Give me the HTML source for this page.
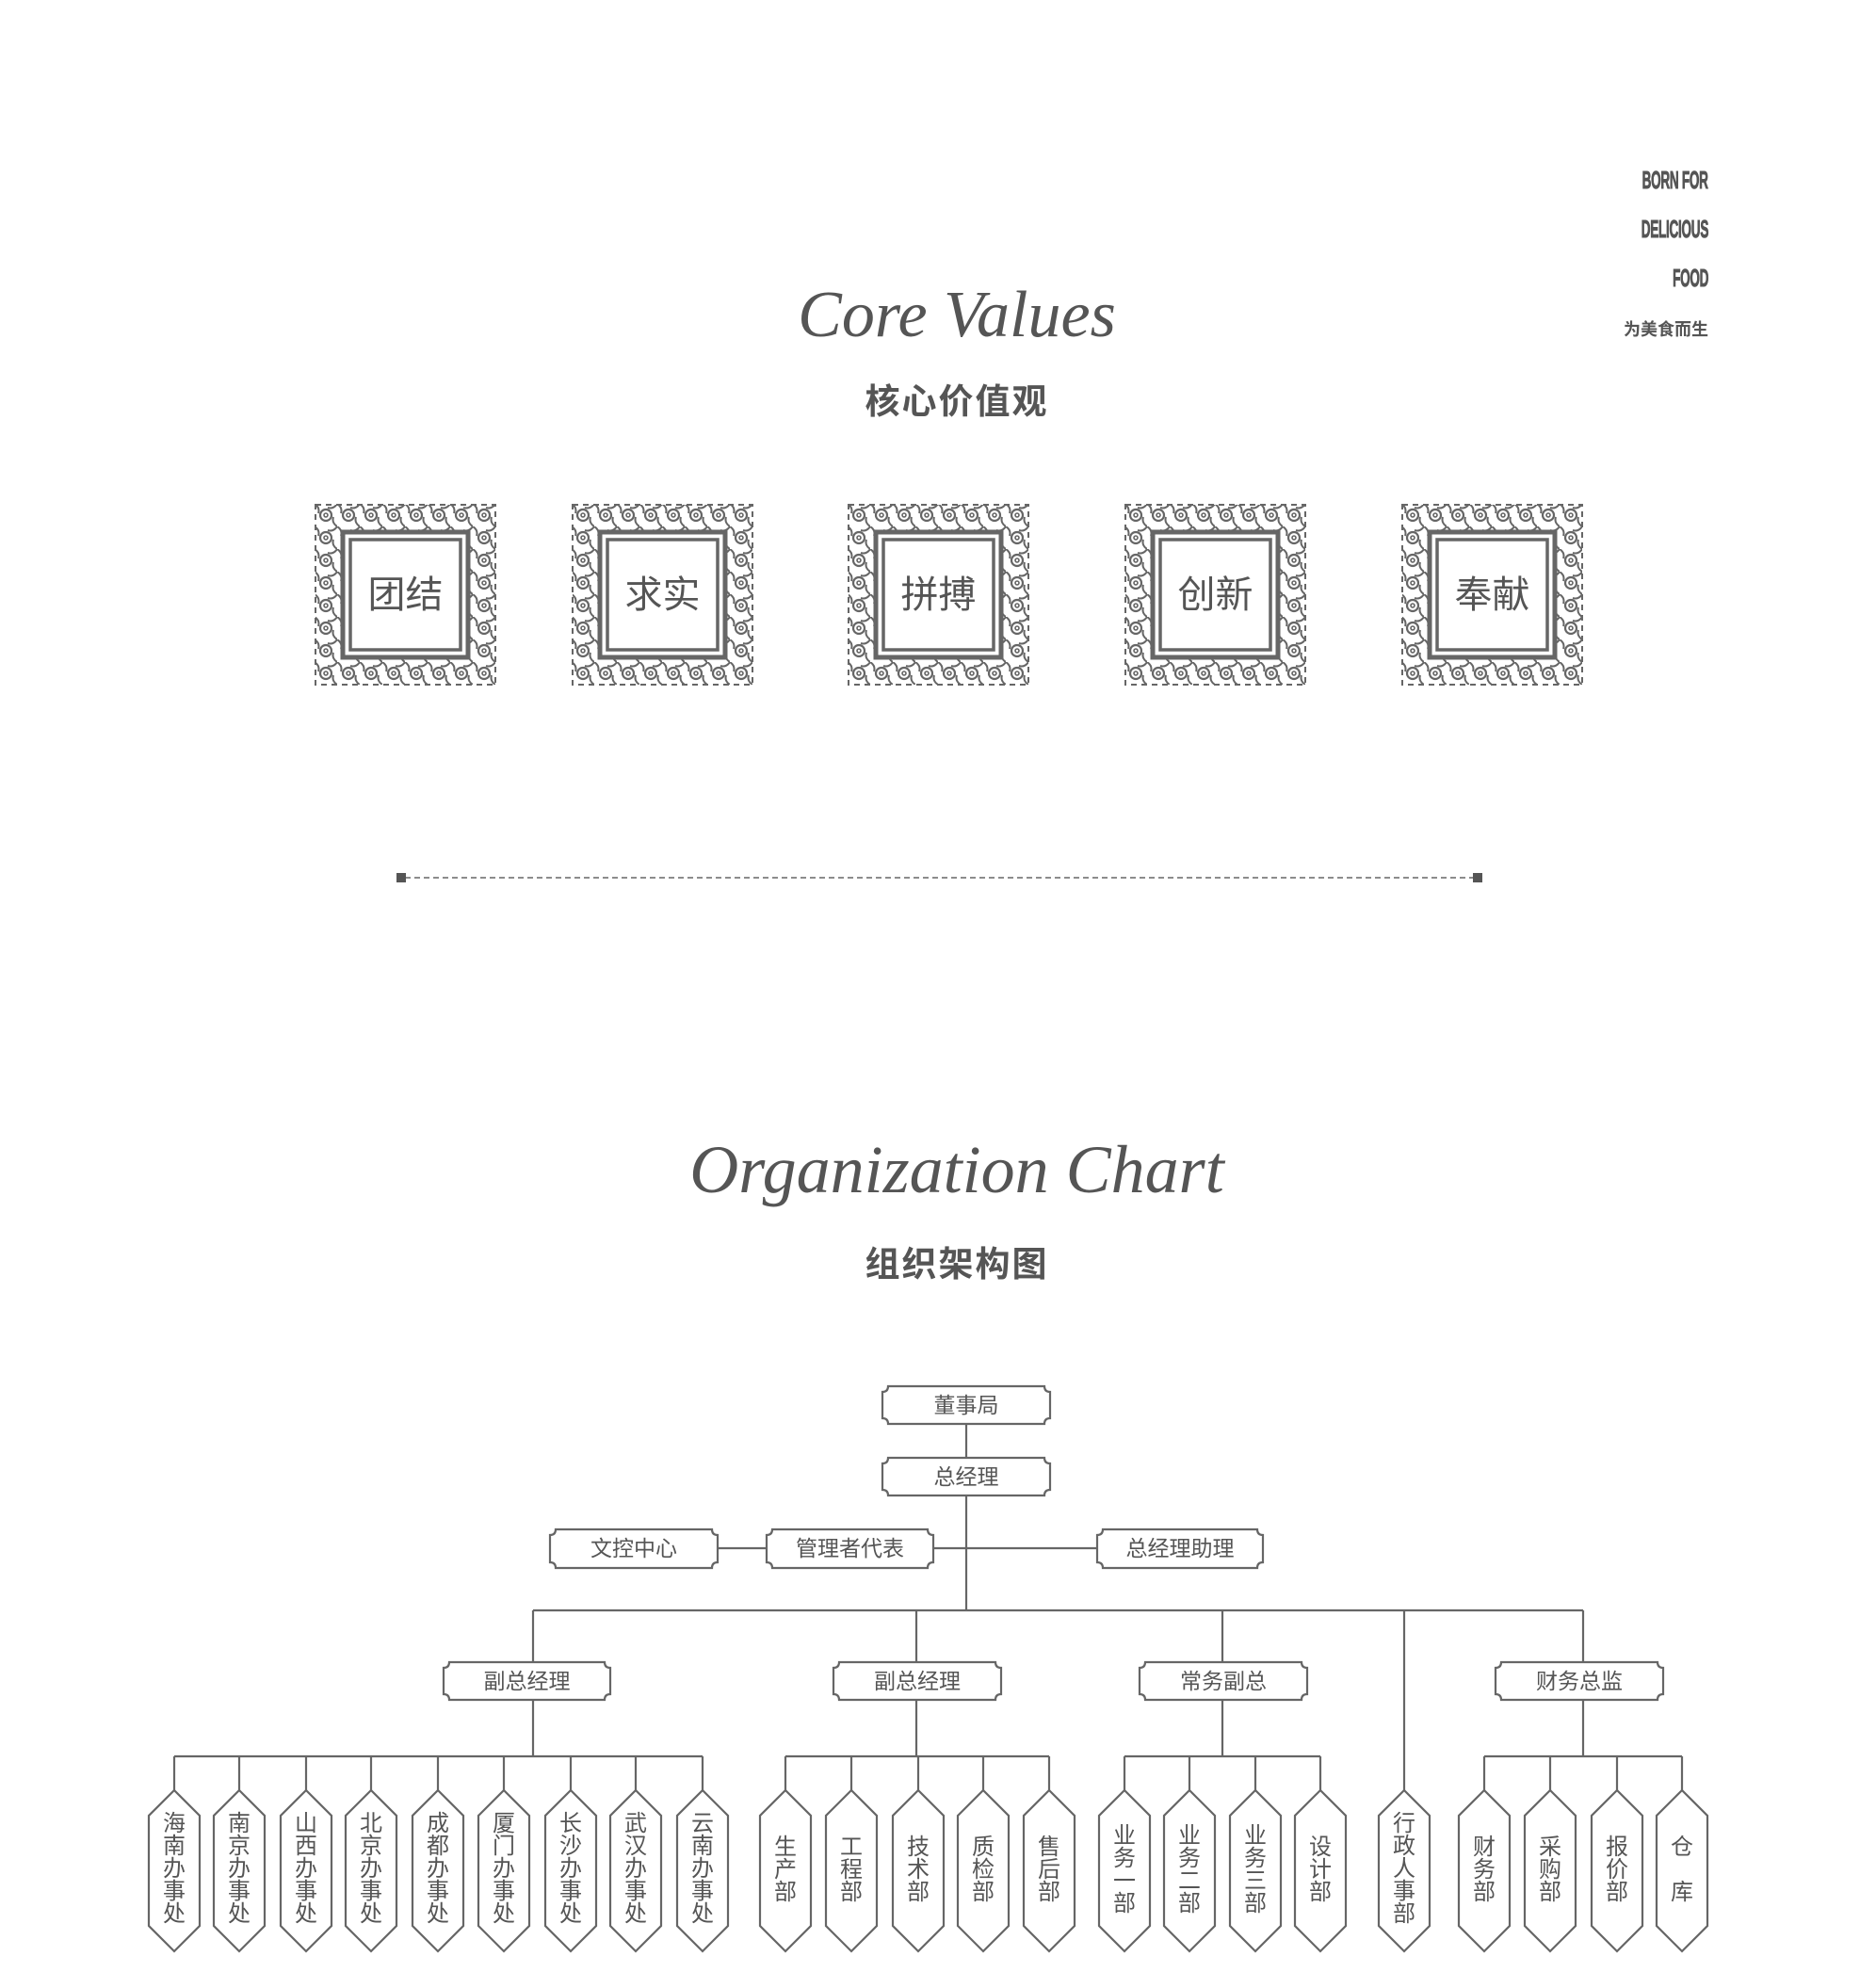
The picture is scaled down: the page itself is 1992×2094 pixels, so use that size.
<!DOCTYPE html>
<html><head><meta charset="utf-8">
<style>
html,body{margin:0;padding:0;background:#fff;}
body{width:1992px;height:2094px;position:relative;overflow:hidden;font-family:"Liberation Sans","Noto Sans CJK SC",sans-serif;color:#5a5a5a;}
.abs{position:absolute;}
.tag{position:absolute;right:178px;font-weight:bold;font-size:26px;line-height:26px;transform:scaleX(0.52);transform-origin:right center;color:#555;letter-spacing:-0.5px;-webkit-text-stroke:1px #555;}
.script{position:absolute;left:20px;width:1992px;text-align:center;font-family:"Liberation Serif",serif;font-style:italic;color:#555;}
.title{position:absolute;left:20px;width:1992px;text-align:center;font-weight:bold;font-size:37px;color:#555;letter-spacing:2px;}
.ft{position:absolute;width:193px;text-align:center;font-size:40px;line-height:40px;top:612px;color:#555;}
.bt{position:absolute;text-align:center;font-size:23px;line-height:26px;color:#555;}
.vt{position:absolute;width:54px;text-align:center;font-size:24px;line-height:24px;color:#555;}
</style></head><body>

<div class="tag" style="top:178px">BORN FOR</div>
<div class="tag" style="top:230px">DELICIOUS</div>
<div class="tag" style="top:282px">FOOD</div>
<div class="abs" style="right:178px;top:336px;font-size:18px;font-weight:bold;color:#555;">为美食而生</div>

<div class="script" style="top:290px;font-size:70px;line-height:90px;">Core Values</div>
<div class="title" style="top:396px;">核心价值观</div>

<svg class="abs" style="left:0;top:0" width="1992" height="2094">
<defs>
<pattern id="orn" width="24" height="24" patternUnits="userSpaceOnUse">
<circle cx="12" cy="12" r="6" fill="none" stroke="#666" stroke-width="2.2"/>
<circle cx="12" cy="12" r="2" fill="none" stroke="#666" stroke-width="1.6"/>
<path d="M0 0 Q6 4 4 10 M24 24 Q18 20 20 14 M24 0 Q20 6 14 4" fill="none" stroke="#666" stroke-width="2"/>
</pattern>
<g id="frame">
<rect x="1" y="1" width="191" height="191" fill="url(#orn)"/>
<rect x="1" y="1" width="191" height="191" fill="none" stroke="#666" stroke-width="2" stroke-dasharray="6 5"/>
<rect x="30" y="30" width="133" height="133" fill="#fff" stroke="#666" stroke-width="5"/>
<rect x="38" y="38" width="117" height="117" fill="none" stroke="#666" stroke-width="3.5"/>
</g>
</defs>
<use href="#frame" x="334" y="535"/>
<use href="#frame" x="607" y="535"/>
<use href="#frame" x="900" y="535"/>
<use href="#frame" x="1194" y="535"/>
<use href="#frame" x="1488" y="535"/>

<line x1="430" y1="932" x2="1565" y2="932" stroke="#666" stroke-width="1.6" stroke-dasharray="6 4"/>
<rect x="421" y="927" width="10" height="10" fill="#555"/>
<rect x="1564" y="927" width="10" height="10" fill="#555"/>

<g fill="none" stroke="#666" stroke-width="2.2">
<line x1="1026" y1="1512" x2="1026" y2="1548"/>
<line x1="1026" y1="1588" x2="1026" y2="1710"/>
<line x1="762" y1="1644" x2="814" y2="1644"/>
<line x1="991" y1="1644" x2="1165" y2="1644"/>
<line x1="566" y1="1710" x2="1681" y2="1710"/>
<line x1="566" y1="1710" x2="566" y2="1765"/>
<line x1="973" y1="1710" x2="973" y2="1765"/>
<line x1="1298" y1="1710" x2="1298" y2="1765"/>
<line x1="1681" y1="1710" x2="1681" y2="1765"/>
<line x1="1491" y1="1710" x2="1491" y2="1901"/>
<line x1="566" y1="1805" x2="566" y2="1865"/>
<line x1="973" y1="1805" x2="973" y2="1865"/>
<line x1="1298" y1="1805" x2="1298" y2="1865"/>
<line x1="1681" y1="1805" x2="1681" y2="1865"/>
<line x1="185" y1="1865" x2="746" y2="1865"/>
<line x1="834" y1="1865" x2="1114" y2="1865"/>
<line x1="1194" y1="1865" x2="1402" y2="1865"/>
<line x1="1576" y1="1865" x2="1786" y2="1865"/>
<path d="M185 1865V1901M254 1865V1901M325 1865V1901M394 1865V1901M465 1865V1901M535 1865V1901M606 1865V1901M675 1865V1901M746 1865V1901M834 1865V1901M904 1865V1901M975 1865V1901M1044 1865V1901M1114 1865V1901M1194 1865V1901M1263 1865V1901M1333 1865V1901M1402 1865V1901M1576 1865V1901M1646 1865V1901M1717 1865V1901M1786 1865V1901"/>
<path d="M943 1472H1109Q1109 1478 1115 1478V1506Q1109 1506 1109 1512H943Q943 1506 937 1506V1478Q943 1478 943 1472Z"/>
<path d="M943 1548H1109Q1109 1554 1115 1554V1582Q1109 1582 1109 1588H943Q943 1582 937 1582V1554Q943 1554 943 1548Z"/>
<path d="M590 1624H756Q756 1630 762 1630V1659Q756 1659 756 1665H590Q590 1659 584 1659V1630Q590 1630 590 1624Z"/>
<path d="M820 1624H985Q985 1630 991 1630V1659Q985 1659 985 1665H820Q820 1659 814 1659V1630Q820 1630 820 1624Z"/>
<path d="M1171 1624H1335Q1335 1630 1341 1630V1659Q1335 1659 1335 1665H1171Q1171 1659 1165 1659V1630Q1171 1630 1171 1624Z"/>
<path d="M477 1765H642Q642 1771 648 1771V1799Q642 1799 642 1805H477Q477 1799 471 1799V1771Q477 1771 477 1765Z"/>
<path d="M891 1765H1057Q1057 1771 1063 1771V1799Q1057 1799 1057 1805H891Q891 1799 885 1799V1771Q891 1771 891 1765Z"/>
<path d="M1216 1765H1382Q1382 1771 1388 1771V1799Q1382 1799 1382 1805H1216Q1216 1799 1210 1799V1771Q1216 1771 1216 1765Z"/>
<path d="M1594 1765H1760Q1760 1771 1766 1771V1799Q1760 1799 1760 1805H1594Q1594 1799 1588 1799V1771Q1594 1771 1594 1765Z"/>
<path d="M185 1901l27 27v117l-27 27l-27-27v-117z"/>
<path d="M254 1901l27 27v117l-27 27l-27-27v-117z"/>
<path d="M325 1901l27 27v117l-27 27l-27-27v-117z"/>
<path d="M394 1901l27 27v117l-27 27l-27-27v-117z"/>
<path d="M465 1901l27 27v117l-27 27l-27-27v-117z"/>
<path d="M535 1901l27 27v117l-27 27l-27-27v-117z"/>
<path d="M606 1901l27 27v117l-27 27l-27-27v-117z"/>
<path d="M675 1901l27 27v117l-27 27l-27-27v-117z"/>
<path d="M746 1901l27 27v117l-27 27l-27-27v-117z"/>
<path d="M834 1901l27 27v117l-27 27l-27-27v-117z"/>
<path d="M904 1901l27 27v117l-27 27l-27-27v-117z"/>
<path d="M975 1901l27 27v117l-27 27l-27-27v-117z"/>
<path d="M1044 1901l27 27v117l-27 27l-27-27v-117z"/>
<path d="M1114 1901l27 27v117l-27 27l-27-27v-117z"/>
<path d="M1194 1901l27 27v117l-27 27l-27-27v-117z"/>
<path d="M1263 1901l27 27v117l-27 27l-27-27v-117z"/>
<path d="M1333 1901l27 27v117l-27 27l-27-27v-117z"/>
<path d="M1402 1901l27 27v117l-27 27l-27-27v-117z"/>
<path d="M1491 1901l27 27v117l-27 27l-27-27v-117z"/>
<path d="M1576 1901l27 27v117l-27 27l-27-27v-117z"/>
<path d="M1646 1901l27 27v117l-27 27l-27-27v-117z"/>
<path d="M1717 1901l27 27v117l-27 27l-27-27v-117z"/>
<path d="M1786 1901l27 27v117l-27 27l-27-27v-117z"/>
</g>
</svg>

<div class="ft" style="left:334px">团结</div>
<div class="ft" style="left:607px">求实</div>
<div class="ft" style="left:900px">拼搏</div>
<div class="ft" style="left:1194px">创新</div>
<div class="ft" style="left:1488px">奉献</div>

<div class="script" style="top:1192px;font-size:72px;line-height:100px;">Organization Chart</div>
<div class="title" style="top:1312px;">组织架构图</div>

<div class="bt" style="left:937px;width:178px;top:1479px">董事局</div>
<div class="bt" style="left:937px;width:178px;top:1555px">总经理</div>
<div class="bt" style="left:584px;width:178px;top:1631px">文控中心</div>
<div class="bt" style="left:814px;width:177px;top:1631px">管理者代表</div>
<div class="bt" style="left:1165px;width:176px;top:1631px">总经理助理</div>
<div class="bt" style="left:471px;width:177px;top:1772px">副总经理</div>
<div class="bt" style="left:885px;width:178px;top:1772px">副总经理</div>
<div class="bt" style="left:1210px;width:178px;top:1772px">常务副总</div>
<div class="bt" style="left:1588px;width:178px;top:1772px">财务总监</div>

<div class="vt" style="left:158px;top:1925px">海<br>南<br>办<br>事<br>处</div>
<div class="vt" style="left:227px;top:1925px">南<br>京<br>办<br>事<br>处</div>
<div class="vt" style="left:298px;top:1925px">山<br>西<br>办<br>事<br>处</div>
<div class="vt" style="left:367px;top:1925px">北<br>京<br>办<br>事<br>处</div>
<div class="vt" style="left:438px;top:1925px">成<br>都<br>办<br>事<br>处</div>
<div class="vt" style="left:508px;top:1925px">厦<br>门<br>办<br>事<br>处</div>
<div class="vt" style="left:579px;top:1925px">长<br>沙<br>办<br>事<br>处</div>
<div class="vt" style="left:648px;top:1925px">武<br>汉<br>办<br>事<br>处</div>
<div class="vt" style="left:719px;top:1925px">云<br>南<br>办<br>事<br>处</div>
<div class="vt" style="left:807px;top:1950px">生<br>产<br>部</div>
<div class="vt" style="left:877px;top:1950px">工<br>程<br>部</div>
<div class="vt" style="left:948px;top:1950px">技<br>术<br>部</div>
<div class="vt" style="left:1017px;top:1950px">质<br>检<br>部</div>
<div class="vt" style="left:1087px;top:1950px">售<br>后<br>部</div>
<div class="vt" style="left:1167px;top:1938px">业<br>务<br>一<br>部</div>
<div class="vt" style="left:1236px;top:1938px">业<br>务<br>二<br>部</div>
<div class="vt" style="left:1306px;top:1938px">业<br>务<br>三<br>部</div>
<div class="vt" style="left:1375px;top:1950px">设<br>计<br>部</div>
<div class="vt" style="left:1464px;top:1925px">行<br>政<br>人<br>事<br>部</div>
<div class="vt" style="left:1549px;top:1950px">财<br>务<br>部</div>
<div class="vt" style="left:1619px;top:1950px">采<br>购<br>部</div>
<div class="vt" style="left:1690px;top:1950px">报<br>价<br>部</div>
<div class="vt" style="left:1759px;top:1950px">仓<br><br>库</div>
</body></html>
